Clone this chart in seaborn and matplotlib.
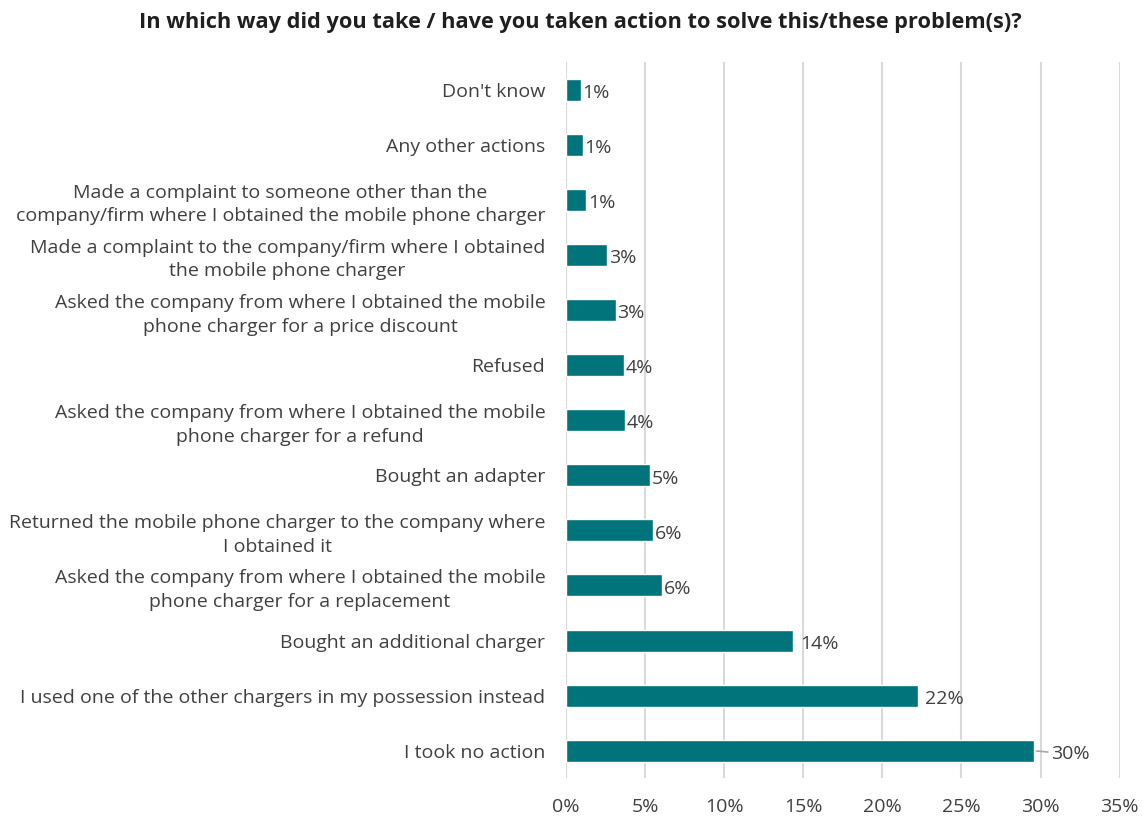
import matplotlib
matplotlib.use("Agg")
import matplotlib.pyplot as plt
import seaborn as sns
import pandas as pd
from matplotlib.ticker import FuncFormatter, MultipleLocator

# Survey answers, top to bottom
categories = [
    "Don't know",
    "Any other actions",
    "Made a complaint to someone other than the\ncompany/firm where I obtained the mobile phone charger",
    "Made a complaint to the company/firm where I obtained\nthe mobile phone charger",
    "Asked the company from where I obtained the mobile\nphone charger for a price discount",
    "Refused",
    "Asked the company from where I obtained the mobile\nphone charger for a refund",
    "Bought an adapter",
    "Returned the mobile phone charger to the company where\nI obtained it",
    "Asked the company from where I obtained the mobile\nphone charger for a replacement",
    "Bought an additional charger",
    "I used one of the other chargers in my possession instead",
    "I took no action",
]
# Share of respondents (%)
shares = [0.94, 1.06, 1.28, 2.61, 3.15, 3.66, 3.72, 5.33, 5.52, 6.09, 14.35, 22.25, 29.57]

title = "In which way did you take / have you taken action to solve this/these problem(s)?"

df = pd.DataFrame({"action": categories, "share": shares})

sns.set_theme(style="white")
plt.rcParams["font.family"] = ["Open Sans", "DejaVu Sans"]

BAR = "#00747A"
TEXT = "#404040"
GRID = "#D9D9D9"
FS = 14

fig = plt.figure(figsize=(11.46, 8.21), dpi=100)
ax = fig.add_axes([0.494, 0.052, 0.483, 0.8725])

sns.barplot(data=df, x="share", y="action", orient="h", color=BAR,
            width=0.4, saturation=1, ax=ax, zorder=3)

ax.set_xlim(0, 35)
ax.xaxis.set_major_locator(MultipleLocator(5))
ax.xaxis.set_major_formatter(FuncFormatter(lambda v, _: f"{v:.0f}%"))
ax.grid(axis="x", color=GRID, linewidth=1.5, zorder=0)
ax.grid(axis="y", visible=False)
for s in ax.spines.values():
    s.set_visible(False)
ax.set_xlabel("")
ax.set_ylabel("")
ax.tick_params(axis="y", length=0, pad=15, labelsize=FS, labelcolor=TEXT)
ax.tick_params(axis="x", length=0, pad=14, labelsize=FS, labelcolor=TEXT)
for lbl in ax.get_yticklabels():
    lbl.set_multialignment("center")
    lbl.set_linespacing(1.4)

# Value labels next to each bar
for i, v in enumerate(shares):
    txt = f"{v:.0f}%"
    if i == len(shares) - 1:
        ax.annotate(txt, xy=(v, i), xytext=(v + 1.1, i + 0.06),
                    va="center", ha="left", fontsize=FS, color=TEXT,
                    arrowprops=dict(arrowstyle="-", color="#A6A6A6", lw=1.2,
                                    shrinkA=0, shrinkB=2))
    else:
        off = 0.45 if v > 10 else 0.1
        ax.text(v + off, i + 0.06, txt, va="center", ha="left",
                fontsize=FS, color=TEXT)

fig.text(0.506, 0.972, title, ha="center", va="center", fontsize=15.7,
         fontweight="bold", color="#1F1F1F")

fig.savefig("out.png", dpi=100)
